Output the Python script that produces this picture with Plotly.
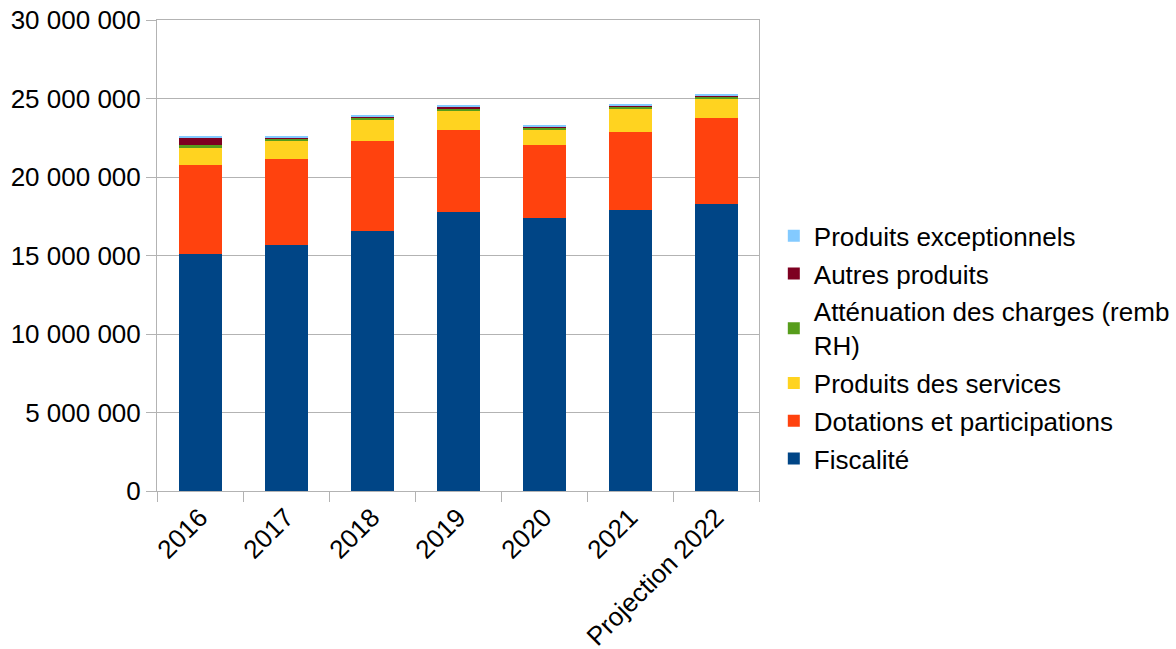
import plotly.graph_objects as go

categories = ["2016", "2017", "2018", "2019", "2020", "2021", "Projection 2022"]

fiscalite = [15120000, 15700000, 16530000, 17740000, 17420000, 17870000, 18250000]
dotations = [5650000, 5420000, 5740000, 5230000, 4600000, 4980000, 5490000]
services = [1070000, 1150000, 1340000, 1280000, 1020000, 1470000, 1280000]
attenuation = [190000, 130000, 130000, 60000, 60000, 130000, 60000]
autres = [510000, 130000, 130000, 190000, 130000, 130000, 130000]
exceptionnels = [60000, 60000, 60000, 60000, 60000, 60000, 60000]

y_ticks = [0, 5000000, 10000000, 15000000, 20000000, 25000000, 30000000]

series = [
    ("Fiscalité", fiscalite, "#004586"),
    ("Dotations et participations", dotations, "#ff420e"),
    ("Produits des services", services, "#ffd320"),
    ("Atténuation des charges (remb<br>RH)", attenuation, "#579d1c"),
    ("Autres produits", autres, "#7e0021"),
    ("Produits exceptionnels", exceptionnels, "#83caff"),
]

fig = go.Figure()
n = len(series)
for i, (name, values, color) in enumerate(series):
    fig.add_trace(go.Bar(
        x=categories, y=values, name=name,
        marker=dict(color=color, line=dict(width=0)),
        legendgroup=name,
        legendrank=n - i,
    ))

font = dict(family="Liberation Sans, Arial, sans-serif", size=26, color="#000000")
grid = "#b3b3b3"

fig.update_layout(
    barmode="stack",
    bargap=0.5,
    width=1176, height=649,
    margin=dict(l=157, r=417, t=20, b=158, autoexpand=False),
    paper_bgcolor="white", plot_bgcolor="white",
    font=font,
    separators=", ",
    showlegend=True,
    legend=dict(
        xref="container", x=0.658, xanchor="left",
        yref="paper", y=0.305, yanchor="middle",
        traceorder="grouped", tracegroupgap=1,
        font=font, itemwidth=30,
        bgcolor="rgba(0,0,0,0)",
    ),
    xaxis=dict(
        type="category", tickangle=-45, tickson="boundaries",
        ticks="outside", ticklen=10, tickcolor=grid,
        showline=True, linecolor=grid, mirror=True,
        showgrid=False, tickfont=font, automargin=False,
    ),
    yaxis=dict(
        range=[0, 30000000], tickvals=y_ticks, tickformat=",d",
        ticks="outside", ticklen=10, tickcolor=grid,
        showline=True, linecolor=grid, mirror=True,
        showgrid=True, gridcolor=grid, gridwidth=1,
        zeroline=False, tickfont=font, automargin=False,
    ),
)

fig.write_html("out.html")
